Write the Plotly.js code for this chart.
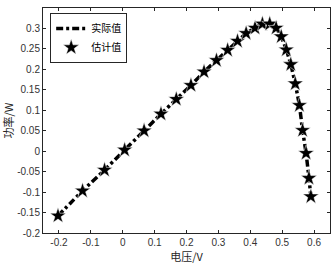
<!DOCTYPE html>
<html><head><meta charset="utf-8">
<script src="https://cdn.plot.ly/plotly-3.0.1.min.js"></script>
<style>html,body{margin:0;padding:0;background:#fff}#c{width:336px;height:264px}</style>
</head><body><div id="c"></div>
<script>
var voltage = [-0.203,-0.126,-0.057,0.006,0.067,0.120,0.168,0.214,0.255,0.294,0.329,0.360,0.387,0.415,0.438,0.461,0.481,0.497,0.513,0.527,0.541,0.554,0.564,0.575,0.584,0.590];
var actualPower = [-0.158,-0.097,-0.046,0.003,0.050,0.091,0.127,0.161,0.194,0.222,0.247,0.269,0.288,0.301,0.311,0.311,0.301,0.280,0.248,0.212,0.165,0.112,0.051,-0.005,-0.066,-0.111];
var estPower = [-0.158,-0.097,-0.046,0.003,0.050,0.091,0.127,0.161,0.194,0.222,0.247,0.269,0.288,0.301,0.311,0.311,0.301,0.280,0.248,0.212,0.165,0.112,0.051,-0.005,-0.066,-0.111];
var xTicks = [-0.2,-0.1,0,0.1,0.2,0.3,0.4,0.5,0.6];
var xTickText = ['-0.2','-0.1','0','0.1','0.2','0.3','0.4','0.5','0.6'];
var yTicks = [-0.2,-0.15,-0.1,-0.05,0,0.05,0.1,0.15,0.2,0.25,0.3];
var yTickText = ['-0.2','-0.15','-0.1','-0.05','0','0.05','0.1','0.15','0.2','0.25','0.3'];

var numFont = {family:'Liberation Sans, Arial, sans-serif', size:10, color:'#333'};
var cjk = 'Noto Sans CJK SC, sans-serif';

var traces = [
  {x:voltage, y:actualPower, mode:'lines', name:'实际值',
   line:{color:'#000', width:3.5, dash:'7px,3px,3px,3px', shape:'spline', smoothing:0.6}},
  {x:voltage, y:estPower, mode:'markers', name:'估计值',
   marker:{symbol:'star', size:12, color:'#000', line:{color:'#fff', width:0.5}}}
];
var axisCommon = {showgrid:false, zeroline:false, showline:true, mirror:'ticks', linecolor:'#262626', linewidth:1,
  ticks:'inside', ticklen:3, tickcolor:'#262626', tickfont:numFont};
var layout = {
  width:336, height:264, margin:{l:43, r:6, t:8, b:31},
  paper_bgcolor:'#fff', plot_bgcolor:'#fff', showlegend:true,
  xaxis:Object.assign({}, axisCommon, {range:[-0.25,0.65], tickvals:xTicks, ticktext:xTickText,
    title:{text:'电压/V', font:{family:cjk, size:11, color:'#262626'}, standoff:5}}),
  yaxis:Object.assign({}, axisCommon, {range:[-0.2,0.35], tickvals:yTicks, ticktext:yTickText,
    title:{text:'功率/W', font:{family:cjk, size:11, color:'#262626'}, standoff:1}}),
  legend:{x:0.025, y:0.978, xanchor:'left', yanchor:'top', bgcolor:'#fff', bordercolor:'#262626', borderwidth:1,
    font:{family:cjk, size:10, color:'#000'}, itemwidth:30, tracegroupgap:0}
};
Plotly.newPlot('c', traces, layout, {staticPlot:true, displayModeBar:false});
</script></body></html>
